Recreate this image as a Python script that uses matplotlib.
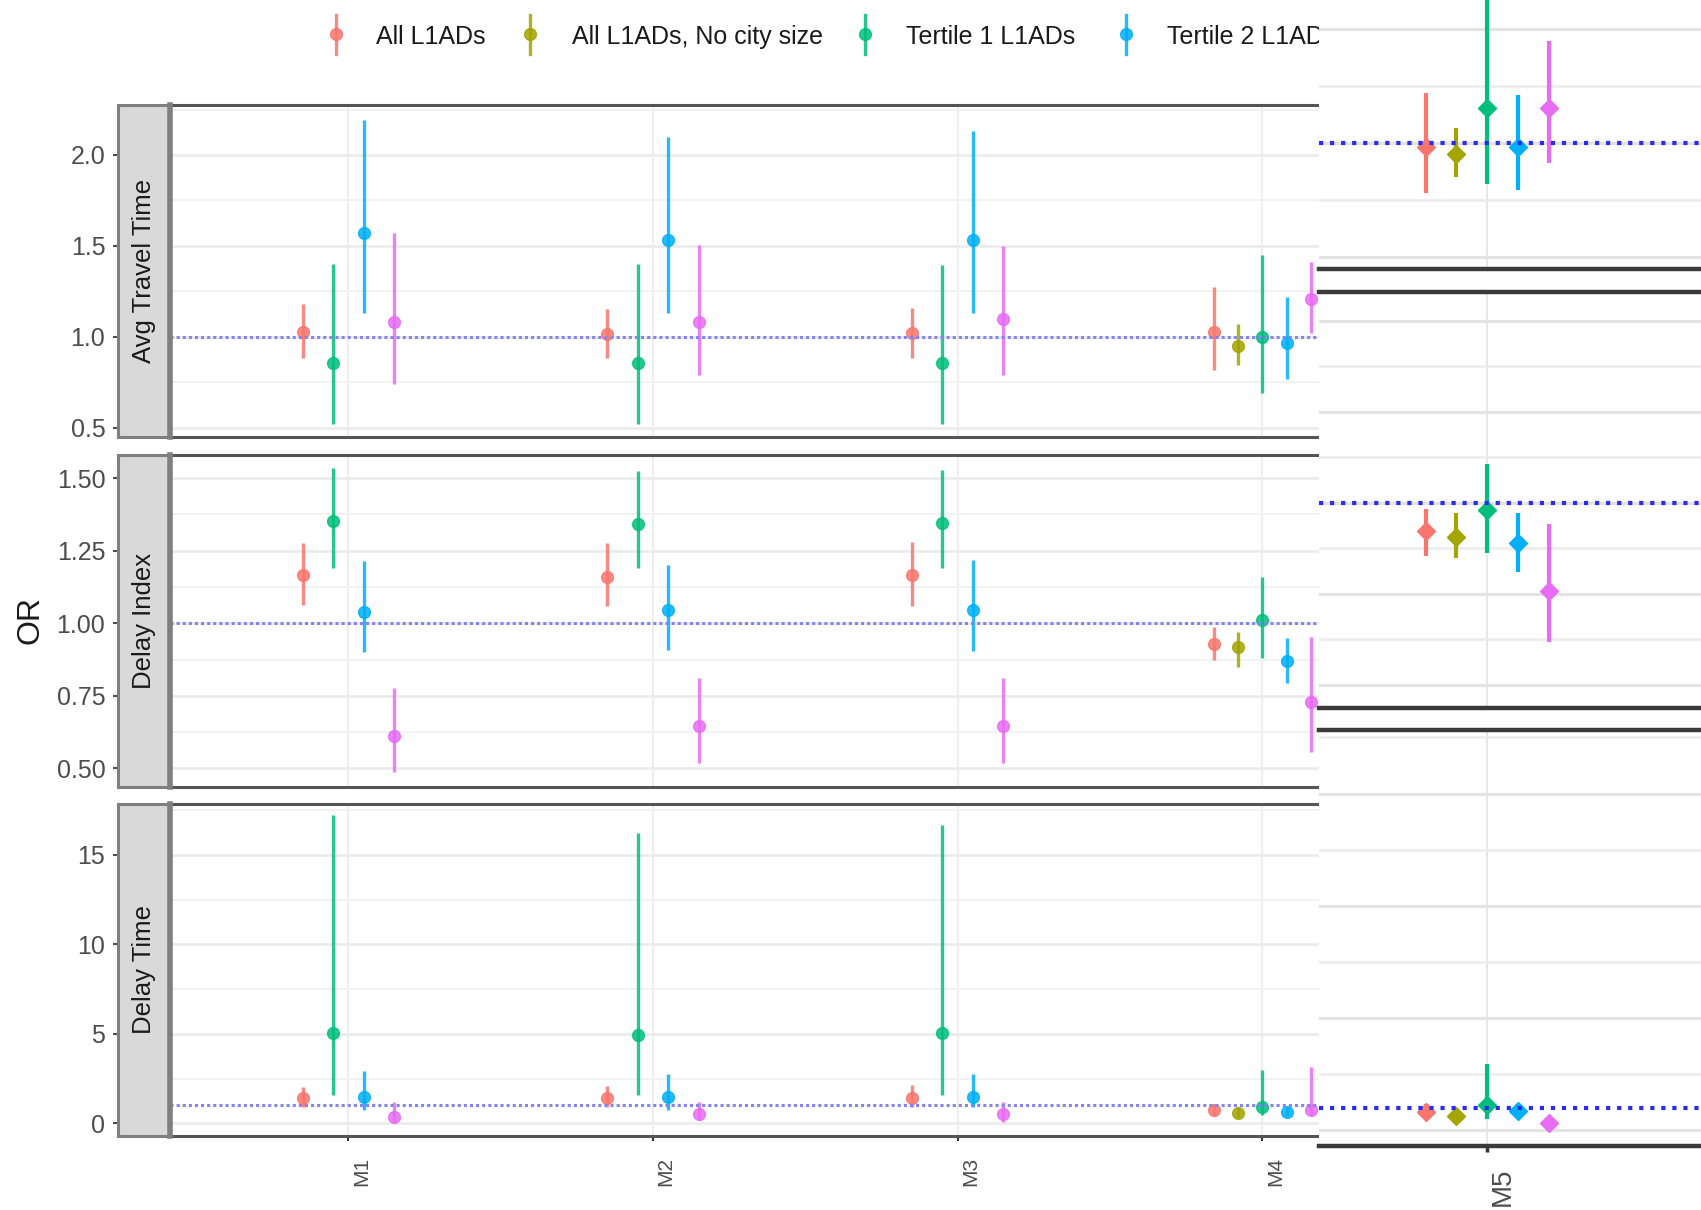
import numpy as np
import matplotlib
matplotlib.use("Agg")
import matplotlib.pyplot as plt
from matplotlib.lines import Line2D
from matplotlib.patches import Rectangle
from matplotlib.ticker import MultipleLocator, FormatStrFormatter
from matplotlib.transforms import ScaledTranslation

plt.rcParams["font.family"] = ["Liberation Sans", "DejaVu Sans"]

nan = np.nan

MODELS = ["M1", "M2", "M3", "M4", "M5"]
SERIES = ["All L1ADs", "All L1ADs, No city size", "Tertile 1 L1ADs",
          "Tertile 2 L1ADs", "Tertile 3 L1ADs"]
COLORS = ["#F8766D", "#A3A500", "#00BF7D", "#00B0F6", "#E76BF3"]
FACETS = ["Avg Travel Time", "Delay Index", "Delay Time"]

# odds ratios and 95% CI, one row per series, one column per model
att_est = [[1.024, 1.013, 1.019, 1.028, 0.985],
           [nan, nan, nan, 0.950, 0.951],
           [0.857, 0.857, 0.857, 0.997, 1.153],
           [1.569, 1.532, 1.532, 0.967, 0.985],
           [1.083, 1.083, 1.097, 1.206, 1.153]]
att_lo = [[0.88, 0.88, 0.88, 0.817, 0.78],
          [nan, nan, nan, 0.845, 0.853],
          [0.52, 0.52, 0.52, 0.69, 0.821],
          [1.13, 1.13, 1.13, 0.765, 0.795],
          [0.74, 0.79, 0.79, 1.022, 0.912]]
att_hi = [[1.18, 1.15, 1.156, 1.275, 1.22],
          [nan, nan, nan, 1.07, 1.068],
          [1.40, 1.40, 1.395, 1.45, 1.66],
          [2.19, 2.10, 2.13, 1.22, 1.211],
          [1.57, 1.505, 1.50, 1.413, 1.45]]

di_est = [[1.167, 1.159, 1.167, 0.929, 0.923],
          [nan, nan, nan, 0.917, 0.907],
          [1.353, 1.341, 1.345, 1.011, 0.981],
          [1.040, 1.046, 1.046, 0.871, 0.891],
          [0.612, 0.646, 0.646, 0.730, 0.758]]
di_lo = [[1.063, 1.061, 1.061, 0.873, 0.854],
         [nan, nan, nan, 0.850, 0.848],
         [1.19, 1.19, 1.19, 0.879, 0.862],
         [0.902, 0.908, 0.906, 0.795, 0.81],
         [0.488, 0.517, 0.519, 0.557, 0.618]]
di_hi = [[1.278, 1.276, 1.281, 0.988, 0.983],
         [nan, nan, nan, 0.971, 0.973],
         [1.534, 1.526, 1.529, 1.161, 1.108],
         [1.215, 1.201, 1.218, 0.948, 0.973],
         [0.776, 0.81, 0.81, 0.954, 0.943]]

dt_est = [[1.40, 1.40, 1.43, 0.74, 0.81],
          [nan, nan, nan, 0.59, 0.66],
          [5.03, 4.94, 5.07, 0.93, 1.11],
          [1.49, 1.49, 1.49, 0.65, 0.84],
          [0.37, 0.50, 0.52, 0.74, 0.32]]
dt_lo = [[0.93, 0.93, 0.93, 0.41, 0.51],
         [nan, nan, nan, 0.37, 0.37],
         [1.58, 1.58, 1.58, 0.46, 0.51],
         [0.74, 0.74, 0.93, 0.41, 0.51],
         [0.05, 0.18, 0.09, 0.46, 0.14]]
dt_hi = [[2.05, 2.09, 2.14, 1.08, 1.18],
         [nan, nan, nan, 0.84, 0.96],
         [17.23, 16.21, 16.68, 2.98, 2.96],
         [2.94, 2.76, 2.76, 0.93, 1.18],
         [1.21, 1.21, 1.21, 3.17, 0.51]]

DATA = [(att_est, att_lo, att_hi), (di_est, di_lo, di_hi), (dt_est, dt_lo, dt_hi)]
YLIMS = [(0.448, 2.275), (0.436, 1.580), (-0.71, 17.85)]
YSTEPS = [(0.5, 0.25, "%.1f"), (0.25, 0.125, "%.2f"), (5, 2.5, "%d")]
DODGE = 0.4

# layout in pixels
W, H = 1701, 1210
PANEL_Y = [(105, 437), (455, 787), (804, 1136)]
STRIP_X = (118, 170)
SPLIT_X = 1319
LEFT_XLIM = (0.414, 4.219)
RIGHT_XLIM = (4.562, 5.570)
ZOOM, ZOOM_OFF = 1.255, -279.4


def rect(x0, y0, x1, y1):
    return [x0 / W, 1 - y1 / H, (x1 - x0) / W, (y1 - y0) / H]


def dodge_positions(est):
    pos = np.full(est.shape, nan)
    for j in range(est.shape[1]):
        present = [i for i in range(est.shape[0]) if not np.isnan(est[i, j])]
        n = len(present)
        for k, i in enumerate(present):
            pos[i, j] = j + 1 - DODGE / 2 + DODGE / n * (k + 0.5)
    return pos


def draw_facet(ax, k, marker, ms, lw, alpha):
    est, lo, hi = (np.array(a, dtype=float) for a in DATA[k])
    pos = dodge_positions(est)
    for i, color in enumerate(COLORS):
        ok = ~np.isnan(est[i])
        ax.vlines(pos[i, ok], lo[i, ok], hi[i, ok], colors=color, lw=lw,
                  alpha=alpha, zorder=3)
        ax.plot(pos[i, ok], est[i, ok], ls="none", marker=marker, ms=ms,
                color=color, mec=color, alpha=alpha, zorder=4)


def style_grid(ax, k, major_c, minor_c, lw_major, lw_minor):
    step, minor, fmt = YSTEPS[k]
    ax.yaxis.set_major_locator(MultipleLocator(step))
    ax.yaxis.set_minor_locator(MultipleLocator(minor))
    ax.yaxis.set_major_formatter(FormatStrFormatter(fmt))
    ax.set_ylim(*YLIMS[k])
    ax.set_xticks(range(1, len(MODELS) + 1))
    ax.grid(which="major", axis="y", color=major_c, lw=lw_major, zorder=0)
    ax.grid(which="minor", axis="y", color=minor_c, lw=lw_minor, zorder=0)
    ax.grid(which="major", axis="x", color=major_c, lw=1.2, zorder=0)
    ax.set_axisbelow(True)


fig = plt.figure(figsize=(W / 100, H / 100), dpi=100)

# left part: strip + panel for each facet
for k, (y0, y1) in enumerate(PANEL_Y):
    ax = fig.add_axes(rect(STRIP_X[1], y0, SPLIT_X + 10, y1), zorder=1)
    strip = fig.add_axes(rect(STRIP_X[0], y0, STRIP_X[1], y1), sharey=ax, zorder=1)
    style_grid(ax, k, "#ebebeb", "#f2f2f2", 1.8, 1.4)
    ax.set_xlim(LEFT_XLIM)
    draw_facet(ax, k, "o", 8.5, 2.4, 0.85)
    ax.axhline(1, color="#8383f2", lw=2.2, ls=(0, (1, 1)), zorder=5)
    for side in ["top", "bottom", "left"]:
        ax.spines[side].set_color("#555555")
        ax.spines[side].set_linewidth(2.2)
    ax.spines["right"].set_visible(False)
    ax.tick_params(axis="y", which="both", left=False, labelleft=False)
    if k < 2:
        ax.tick_params(axis="x", bottom=False, labelbottom=False)
    else:
        ax.set_xticklabels(MODELS, rotation=90, fontsize=15, color="#4d4d4d")
        ax.tick_params(axis="x", length=3.6, width=1.5, color="#333333", pad=11.5)
        for lbl in ax.get_xticklabels():
            lbl.set_transform(lbl.get_transform() + ScaledTranslation(0.13, 0, fig.dpi_scale_trans))

    strip.set_facecolor("#d9d9d9")
    strip.set_xticks([])
    strip.tick_params(axis="y", which="major", length=3.6, width=1.5, color="#4d4d4d",
                      labelsize=18, labelcolor="#4d4d4d", pad=5.5)
    strip.tick_params(axis="y", which="minor", length=0)
    for side in strip.spines:
        strip.spines[side].set_color("#7f7f7f")
        strip.spines[side].set_linewidth(2.2)
    strip.spines["right"].set_linewidth(4)
    strip.text(0.5, 0.5, FACETS[k], transform=strip.transAxes, rotation=90,
               ha="center", va="center", fontsize=18.5, color="#1a1a1a")

fig.text(30 / W, 1 - 620 / H, "OR", rotation=90, ha="center", va="center",
         fontsize=23, color="#1a1a1a")

# legend along the top
LEGEND_KEY_X = [336, 530, 865, 1126]
LEGEND_TEXT_X = [376, 572, 906, 1167]
for name, color, kx, tx in zip(SERIES, COLORS, LEGEND_KEY_X, LEGEND_TEXT_X):
    fig.add_artist(Line2D([kx / W, kx / W], [1 - 15 / H, 1 - 54 / H], color=color,
                          lw=2.4, alpha=0.85, transform=fig.transFigure))
    fig.add_artist(Line2D([kx / W], [1 - 34 / H], marker="o", ms=8.5, color=color,
                          alpha=0.85, transform=fig.transFigure))
    fig.text(tx / W, 1 - 37 / H, name, ha="left", va="center", fontsize=18,
             color="#1a1a1a")

# enlarged view of the last model, drawn over the right edge
fig.add_artist(Rectangle((SPLIT_X / W, 0), 1 - SPLIT_X / W, 1, facecolor="white",
                         edgecolor="none", transform=fig.transFigure, zorder=10))
for k, (y0, y1) in enumerate(PANEL_Y):
    ry0, ry1 = ZOOM * y0 + ZOOM_OFF, ZOOM * y1 + ZOOM_OFF
    ax = fig.add_axes(rect(SPLIT_X, ry0, W + 5, ry1), zorder=11)
    style_grid(ax, k, "#e3e3e3", "#ececec", 2.2, 1.8)
    ax.set_xlim(RIGHT_XLIM)
    draw_facet(ax, k, "D", 9, 3.0, 1.0)
    ax.axhline(1, color="#2a2af0", lw=3, ls=":", zorder=5)
    ax.spines["left"].set_visible(False)
    ax.spines["right"].set_visible(False)
    for side in ["top", "bottom"]:
        ax.spines[side].set_color("#3a3a3a")
        ax.spines[side].set_linewidth(3.2)
    ax.tick_params(axis="y", which="both", left=False, labelleft=False)
    if k < 2:
        ax.tick_params(axis="x", bottom=False, labelbottom=False)
    else:
        ax.set_xticklabels(MODELS, rotation=90, fontsize=20, color="#4d4d4d")
        ax.tick_params(axis="x", length=4.5, width=2.5, color="#333333", pad=11)
        for lbl in ax.get_xticklabels():
            lbl.set_transform(lbl.get_transform() + ScaledTranslation(0.16, 0, fig.dpi_scale_trans))

fig.savefig("out.png", dpi=100)
